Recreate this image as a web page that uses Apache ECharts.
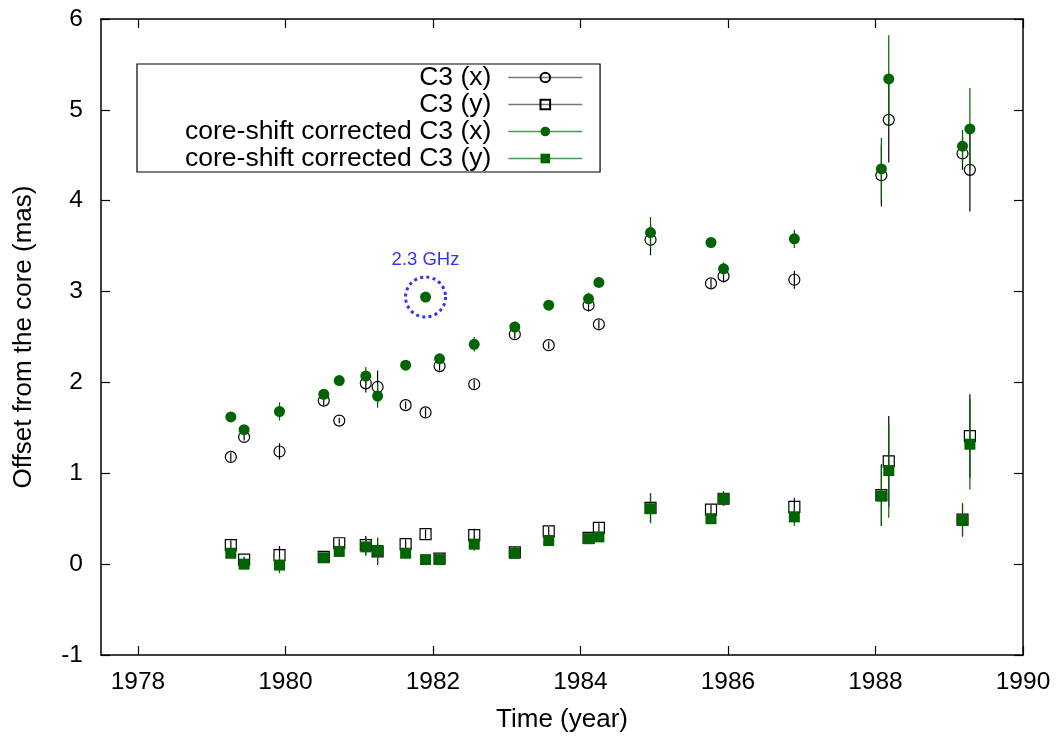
<!DOCTYPE html>
<html>
<head>
<meta charset="utf-8">
<script src="https://cdn.jsdelivr.net/npm/echarts@6/dist/echarts.min.js"></script>
<style>html,body{margin:0;padding:0;background:#fff}#c{width:1061px;height:738px}</style>
</head>
<body>
<div id="c"></div>
<script>
// Epochs (year)
const years = [1979.26, 1979.44, 1979.92, 1980.52, 1980.73, 1981.09, 1981.25, 1981.63, 1981.90, 1982.09, 1982.56, 1983.11, 1983.57, 1984.11, 1984.25, 1984.95, 1985.77, 1985.94, 1986.90, 1988.08, 1988.18, 1989.18, 1989.28];
// C3 (x)
const c3x    = [1.18, 1.40, 1.24, 1.80, 1.58, 1.99, 1.95, 1.75, 1.67, 2.18, 1.98, 2.53, 2.41, 2.85, 2.64, 3.57, 3.09, 3.17, 3.13, 4.28, 4.89, 4.52, 4.34];
const c3xErr = [0.05, 0.04, 0.09, 0.05, 0.03, 0.10, 0.18, 0.04, 0.05, 0.05, 0.05, 0.05, 0.04, 0.07, 0.05, 0.17, 0.05, 0.07, 0.10, 0.34, 0.47, 0.18, 0.46];
// C3 (y)
const c3y    = [0.21, 0.05, 0.10, 0.08, 0.23, 0.21, 0.14, 0.22, 0.33, 0.06, 0.32, 0.13, 0.36, 0.29, 0.40, 0.62, 0.60, 0.72, 0.63, 0.76, 1.13, 0.49, 1.41];
const c3yErr = [0.05, 0.03, 0.10, 0.03, 0.05, 0.10, 0.15, 0.05, 0.05, 0.04, 0.07, 0.06, 0.05, 0.06, 0.05, 0.16, 0.05, 0.08, 0.10, 0.34, 0.50, 0.18, 0.46];
// core-shift corrected C3 (x)
const csx    = [1.62, 1.48, 1.68, 1.87, 2.02, 2.07, 1.85, 2.19, 2.94, 2.26, 2.42, 2.61, 2.85, 2.92, 3.10, 3.65, 3.54, 3.25, 3.58, 4.35, 5.34, 4.60, 4.79];
const csxErr = [0.04, 0.03, 0.10, 0.05, 0.03, 0.10, 0.13, 0.03, 0.03, 0.04, 0.08, 0.06, 0.04, 0.07, 0.04, 0.17, 0.03, 0.07, 0.10, 0.34, 0.48, 0.18, 0.45];
// core-shift corrected C3 (y)
const csy    = [0.12, 0.00, -0.01, 0.07, 0.14, 0.19, 0.15, 0.12, 0.05, 0.05, 0.22, 0.12, 0.26, 0.28, 0.30, 0.61, 0.50, 0.72, 0.52, 0.75, 1.03, 0.48, 1.32];
const csyErr = [0.05, 0.03, 0.09, 0.03, 0.05, 0.10, 0.14, 0.05, 0.04, 0.04, 0.07, 0.06, 0.05, 0.06, 0.05, 0.16, 0.05, 0.08, 0.10, 0.33, 0.52, 0.18, 0.50];
// annotated point
const annot = [[1981.90, 2.94]];
const annotText = '2.3 GHz';
const xTicks = [1978, 1980, 1982, 1984, 1986, 1988, 1990];
const names = ['C3 (x)', 'C3 (y)', 'core-shift corrected C3 (x)', 'core-shift corrected C3 (y)'];

const FONT = 'Liberation Sans';
const GREEN = '#006400';

function pts(v) { return years.map((y, i) => [y, v[i]]); }
function errData(v, e) { return years.map((y, i) => [y, v[i] - e[i], v[i] + e[i]]); }
function errSeries(v, e, color, z) {
  return {
    type: 'custom', z: z, silent: true,
    data: errData(v, e),
    renderItem: function (params, api) {
      const a = api.coord([api.value(0), api.value(1)]);
      const b = api.coord([api.value(0), api.value(2)]);
      return { type: 'line', shape: { x1: a[0], y1: a[1], x2: b[0], y2: b[1] }, style: { stroke: color, lineWidth: 1.2 } };
    }
  };
}
function markSeries(name, v, symbol, size, fill, border, z) {
  return {
    name: name, type: 'line', z: z, data: pts(v),
    symbol: symbol, symbolSize: size, showSymbol: true,
    lineStyle: { opacity: 0 },
    itemStyle: { color: fill, borderColor: border, borderWidth: border === 'none' ? 0 : 1.2 },
    emphasis: { disabled: true }
  };
}

const axisCommon = {
  axisLine: { onZero: false, lineStyle: { color: '#000', width: 1.5 } },
  splitLine: { show: false }
};

const chart = echarts.init(document.getElementById('c'));
chart.setOption({
  animation: false,
  backgroundColor: '#fff',
  grid: { left: 101, right: 38, top: 19, bottom: 83 },
  xAxis: [
    Object.assign({}, axisCommon, {
      type: 'value', min: 1977.5, max: 1990, position: 'bottom',
      name: 'Time (year)', nameLocation: 'middle', nameGap: 52,
      nameTextStyle: { fontFamily: FONT, fontSize: 26, color: '#000' },
      axisTick: { inside: true, length: 9, customValues: xTicks, lineStyle: { color: '#000', width: 1.2 } },
      axisLabel: { customValues: xTicks, margin: 15, fontFamily: FONT, fontSize: 24.5, color: '#000', formatter: v => String(v) }
    }),
    Object.assign({}, axisCommon, {
      type: 'value', min: 1977.5, max: 1990, position: 'top',
      axisTick: { inside: true, length: 9, customValues: xTicks, lineStyle: { color: '#000', width: 1.2 } },
      axisLabel: { show: false }
    })
  ],
  yAxis: [
    Object.assign({}, axisCommon, {
      type: 'value', min: -1, max: 6, interval: 1, position: 'left',
      name: 'Offset from the core (mas)', nameLocation: 'middle', nameGap: 64,
      nameTextStyle: { fontFamily: FONT, fontSize: 26, color: '#000' },
      axisTick: { inside: true, length: 9, lineStyle: { color: '#000', width: 1.2 } },
      axisLabel: { margin: 18, fontFamily: FONT, fontSize: 24.5, color: '#000' }
    }),
    Object.assign({}, axisCommon, {
      type: 'value', min: -1, max: 6, interval: 1, position: 'right',
      axisTick: { inside: true, length: 9, lineStyle: { color: '#000', width: 1.2 } },
      axisLabel: { show: false }
    })
  ],
  legend: {
    data: [
      { name: names[0], lineStyle: { color: '#777', width: 1.5, opacity: 1 } },
      { name: names[1], lineStyle: { color: '#777', width: 1.5, opacity: 1 } },
      { name: names[2], lineStyle: { color: '#4c9a4c', width: 1.5, opacity: 1 } },
      { name: names[3], lineStyle: { color: '#4c9a4c', width: 1.5, opacity: 1 } }
    ],
    orient: 'vertical', align: 'right', left: 137, top: 64,
    itemWidth: 74, itemHeight: 12, itemGap: 0,
    padding: [0, 17, 0, 48],
    backgroundColor: '#fff', borderColor: '#000', borderWidth: 1.2, borderRadius: 0,
    selectedMode: false,
    textStyle: { fontFamily: FONT, fontSize: 26.5, color: '#000', lineHeight: 25, padding: [0, 12, 0, 0] }
  },
  series: [
    errSeries(c3x, c3xErr, '#000', 2),
    errSeries(c3y, c3yErr, '#000', 2),
    markSeries(names[0], c3x, 'circle', 11, 'rgba(0,0,0,0)', '#000', 3),
    markSeries(names[1], c3y, 'rect', 11, 'rgba(0,0,0,0)', '#000', 3),
    errSeries(csx, csxErr, GREEN, 4),
    errSeries(csy, csyErr, GREEN, 4),
    markSeries(names[2], csx, 'circle', 11, GREEN, 'none', 5),
    markSeries(names[3], csy, 'rect', 11, GREEN, 'none', 5),
    {
      type: 'scatter', z: 6, silent: true, data: annot,
      symbol: 'circle', symbolSize: 40,
      itemStyle: { color: 'rgba(0,0,0,0)', borderColor: '#0000ee', borderWidth: 3, borderType: [3, 3.3] },
      label: { show: true, position: 'top', distance: 6, formatter: annotText, fontFamily: FONT, fontSize: 18.5, color: '#0000ee' }
    }
  ]
});
</script>
</body>
</html>
